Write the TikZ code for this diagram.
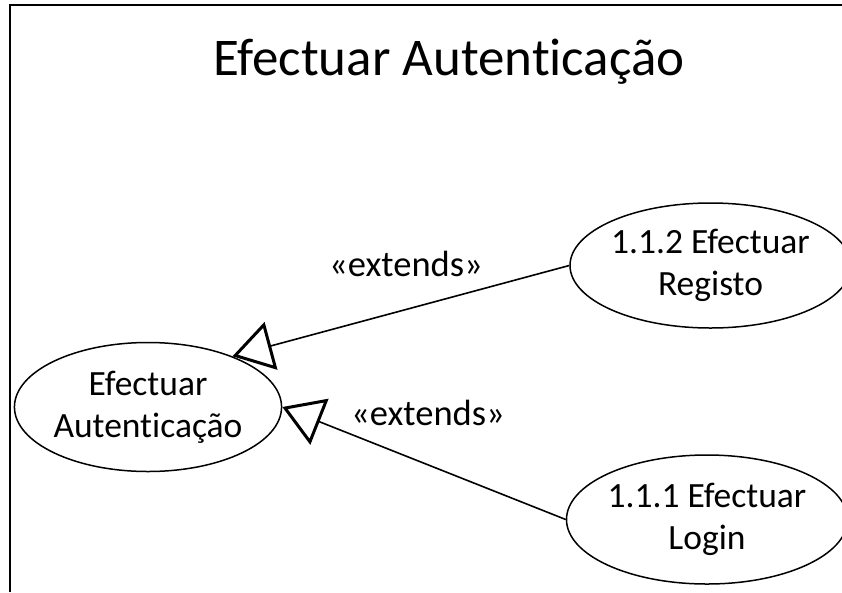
\documentclass[tikz,border=0pt]{standalone}
\usepackage{fontspec}
\setmainfont{Carlito}[Ligatures=NoCommon]
\usetikzlibrary{shapes.geometric,arrows.meta}
\begin{document}
\begin{tikzpicture}[x=1pt,y=-1pt,
  usecase/.style={draw,ellipse,line width=1.5pt,inner sep=0pt,align=center,
    font=\fontsize{35.5}{42}\selectfont},
  ext/.style={draw,line width=1.6pt,
    -{Triangle[open,length=40pt,width=49pt,line width=3pt]}},
  lbl/.style={font=\fontsize{36.5}{42}\selectfont,anchor=base,inner sep=0pt}]
\useasboundingbox (0,0) rectangle (842,592);
\draw[line width=2pt] (10,592) -- (10,5) -- (842,5);
\node[anchor=base,inner sep=0pt,font=\fontsize{53}{64}\selectfont] (title) at (449,75) {Efectuar Autenticação};
\node[usecase,minimum width=260pt,minimum height=129pt] (auth) at (148,407) {Efectuar\\Autenticação};
\node[usecase,minimum width=255pt,minimum height=125pt] (registo) at (710.5,265.5) {1.1.2 Efectuar\\Registo};
\node[usecase,minimum width=258pt,minimum height=129pt] (login) at (707,519.5) {1.1.1 Efectuar\\Login};
\draw[ext] (registo.west) -- (auth.31);
\draw[ext] (login.west) -- (auth.east);
\node[lbl] (l1) at (406,276) {«extends»};
\node[lbl] (l2) at (428,425) {«extends»};
\end{tikzpicture}
\end{document}
